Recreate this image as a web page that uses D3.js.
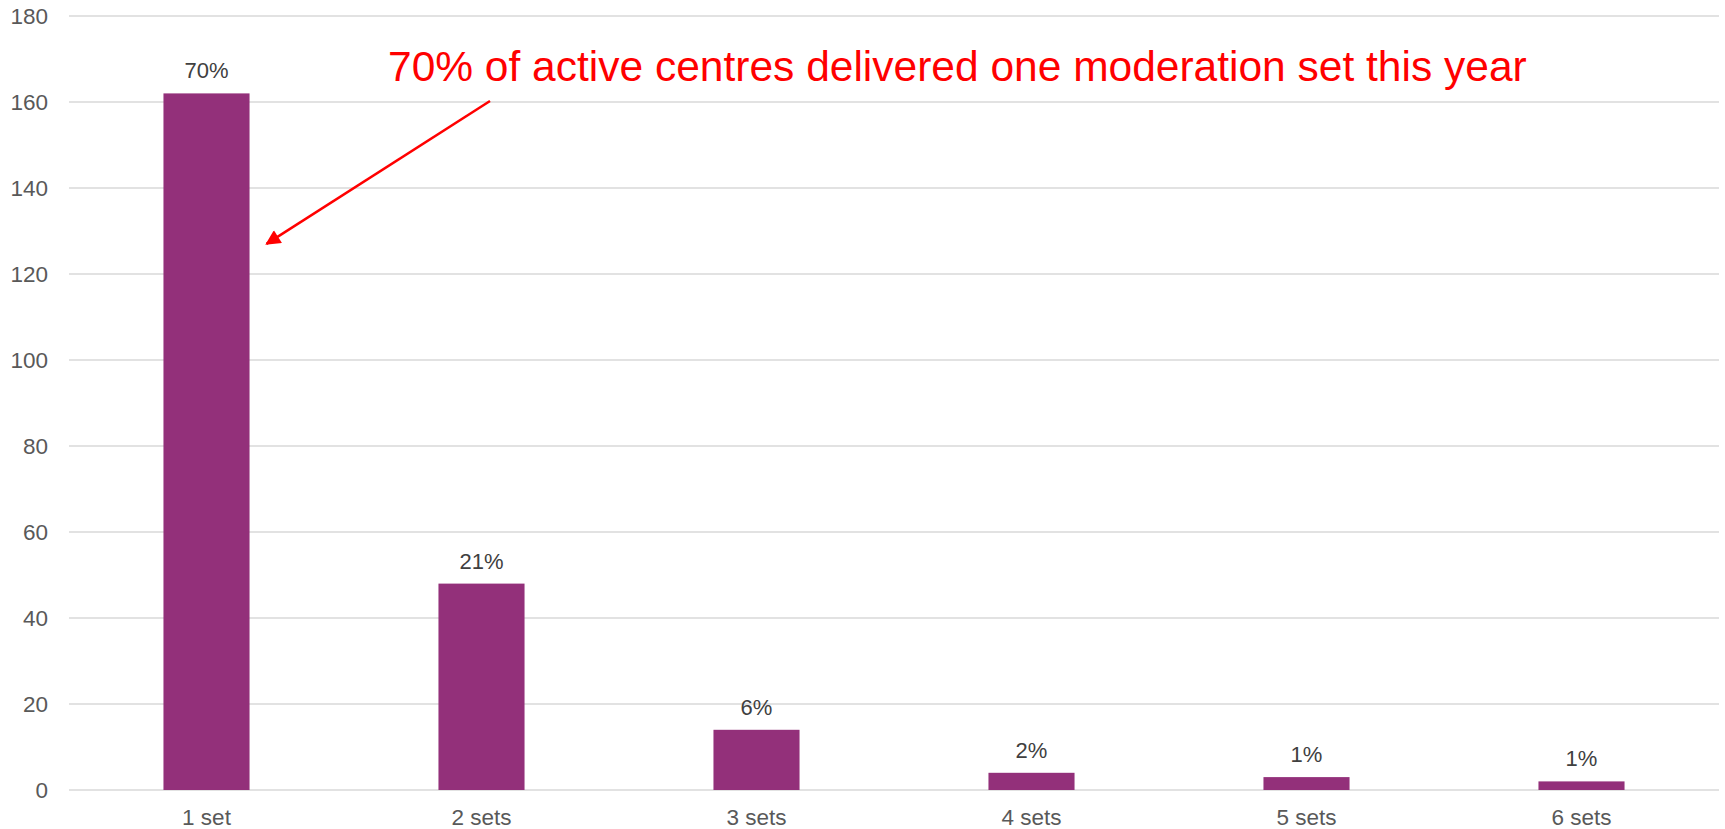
<!DOCTYPE html>
<html>
<head>
<meta charset="utf-8">
<script src="https://cdn.jsdelivr.net/npm/d3@7"></script>
<style>
  body { margin: 0; background: #fff; }
  text { font-family: "Liberation Sans", Arial, sans-serif; }
</style>
</head>
<body>
<div id="chart"></div>
<script>
// data
var categories = ["1 set", "2 sets", "3 sets", "4 sets", "5 sets", "6 sets"];
var centres = [162, 48, 14, 4, 3, 2];
var shareLabels = ["70%", "21%", "6%", "2%", "1%", "1%"];
var yTicks = [0, 20, 40, 60, 80, 100, 120, 140, 160, 180];
var note = "70% of active centres delivered one moderation set this year";

var W = 1725, H = 829;
var margin = {top: 16, right: 6, bottom: 39, left: 69},
    width = W - margin.left - margin.right,
    height = H - margin.top - margin.bottom;

var svg = d3.select("#chart")
  .append("svg")
    .attr("width", W)
    .attr("height", H);

var g = svg.append("g")
    .attr("transform", "translate(" + margin.left + "," + margin.top + ")");

var x = d3.scaleBand()
  .domain(categories)
  .range([0, width])
  .paddingInner(0.687)
  .paddingOuter(0.3435);

var y = d3.scaleLinear()
  .domain([0, 180])
  .range([height, 0]);

// gridlines
g.append("g")
  .selectAll("line")
  .data(yTicks)
  .enter()
  .append("line")
    .attr("x1", 0)
    .attr("x2", width)
    .attr("y1", function(d) { return y(d); })
    .attr("y2", function(d) { return y(d); })
    .style("stroke", "#d9d9d9")
    .style("stroke-width", 1.5);

// Y axis labels
var yAxis = g.append("g")
  .call(d3.axisLeft(y).tickValues(yTicks).tickSize(0).tickPadding(21));
yAxis.select(".domain").remove();
yAxis.selectAll("text")
  .style("font-size", "22.5px")
  .style("fill", "#595959");

// X axis labels
var xAxis = g.append("g")
  .attr("transform", "translate(0," + height + ")")
  .call(d3.axisBottom(x).tickSize(0).tickPadding(19));
xAxis.select(".domain").remove();
xAxis.selectAll("text")
  .style("font-size", "22.5px")
  .style("fill", "#595959");

// bars
g.append("g")
  .selectAll("rect")
  .data(centres)
  .enter()
  .append("rect")
    .attr("x", function(d, i) { return x(categories[i]); })
    .attr("y", function(d) { return y(d); })
    .attr("width", x.bandwidth())
    .attr("height", function(d) { return height - y(d); })
    .style("fill", "#93307a");

// percentage labels
g.append("g")
  .selectAll("text")
  .data(centres)
  .enter()
  .append("text")
    .attr("x", function(d, i) { return x(categories[i]) + x.bandwidth() / 2; })
    .attr("y", function(d) { return y(d) - 15; })
    .attr("text-anchor", "middle")
    .style("font-size", "22px")
    .style("fill", "#404040")
    .text(function(d, i) { return shareLabels[i]; });

// annotation
svg.append("defs").append("marker")
    .attr("id", "head")
    .attr("viewBox", "0 0 10 10")
    .attr("refX", 9)
    .attr("refY", 5)
    .attr("markerWidth", 7)
    .attr("markerHeight", 6)
    .attr("markerUnits", "strokeWidth")
    .attr("orient", "auto")
  .append("path")
    .attr("d", "M0,0 L10,5 L0,10 z")
    .style("fill", "#ff0000");

svg.append("text")
    .attr("x", 388)
    .attr("y", 81)
    .style("font-size", "42.5px")
    .style("fill", "#ff0000")
    .text(note);

svg.append("line")
    .attr("x1", 490)
    .attr("y1", 101)
    .attr("x2", margin.left + x(categories[0]) + x.bandwidth() + 17)
    .attr("y2", margin.top + y(127))
    .style("stroke", "#ff0000")
    .style("stroke-width", 2.5)
    .attr("marker-end", "url(#head)");
</script>
</body>
</html>
